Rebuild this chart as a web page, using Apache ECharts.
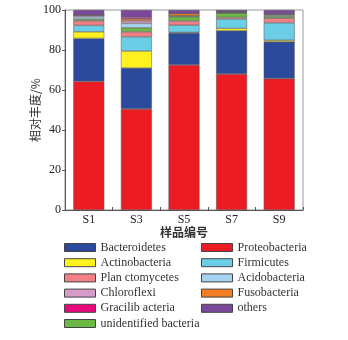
<!DOCTYPE html>
<html>
<head>
<meta charset="utf-8">
<script src="https://cdn.jsdelivr.net/npm/echarts@6/dist/echarts.min.js"></script>
<style>html,body{margin:0;padding:0;background:#fff;}#c{width:348px;height:340px;}</style>
</head>
<body>
<div id="c"></div>
<script>
const categories = ['S1', 'S3', 'S5', 'S7', 'S9'];
const yTicks = [0, 20, 40, 60, 80, 100];
const yAxisName = '相对丰度/%';
const xAxisName = '样品编号';

// stacked from bottom to top
const proteobacteria   = [64.3, 50.5, 72.5, 68.0, 65.7];
const bacteroidetes    = [21.5, 20.5, 16.0, 21.6, 18.4];
const actinobacteria   = [3.3, 8.5, 0.3, 1.2, 0.8];
const firmicutes       = [3.2, 7.1, 3.6, 4.7, 8.7];
const planctomycetes   = [2.3, 2.5, 2.1, 0.8, 2.3];
const unidentified     = [0.9, 2.0, 2.1, 2.2, 0.9];
const acidobacteria    = [1.1, 2.2, 0.5, 0.2, 0.5];
const chloroflexi      = [0.9, 1.3, 0.0, 0.3, 0.6];
const fusobacteria     = [0.0, 0.9, 1.2, 0.0, 0.0];
const gracilibacteria  = [0.0, 0.8, 0.0, 0.2, 0.2];
const others           = [2.5, 3.7, 1.7, 0.8, 1.9];

const seriesDefs = [
  ['Proteobacteria', proteobacteria, '#ec1c24'],
  ['Bacteroidetes', bacteroidetes, '#2b4a9b'],
  ['Actinobacteria', actinobacteria, '#fff21f'],
  ['Firmicutes', firmicutes, '#6ccde6'],
  ['Plan ctomycetes', planctomycetes, '#f28086'],
  ['unidentified bacteria', unidentified, '#6cb845'],
  ['Acidobacteria', acidobacteria, '#a6d4f0'],
  ['Chloroflexi', chloroflexi, '#d79bc9'],
  ['Fusobacteria', fusobacteria, '#f47d22'],
  ['Gracilib acteria', gracilibacteria, '#e9097c'],
  ['others', others, '#7c489c']
];

const leftLegend = ['Bacteroidetes', 'Actinobacteria', 'Plan ctomycetes', 'Chloroflexi', 'Gracilib acteria', 'unidentified bacteria'];
const rightLegend = ['Proteobacteria', 'Firmicutes', 'Acidobacteria', 'Fusobacteria', 'others'];

const serif = 'Liberation Serif';
const cjk = 'Noto Sans CJK SC';

const legendCommon = {
  orient: 'vertical',
  itemWidth: 31,
  itemHeight: 8,
  itemGap: 1.2,
  icon: 'rect',
  top: 235.5,
  height: 120,
  textStyle: { fontFamily: serif, fontSize: 12, color: '#333', lineHeight: 14 },
  itemStyle: { borderColor: '#444', borderWidth: 1 }
};

const chart = echarts.init(document.getElementById('c'), null, { renderer: 'canvas' });
chart.setOption({
  animation: false,
  backgroundColor: '#fff',
  grid: { left: 65, right: 45, top: 10, height: 200, show: true, borderColor: '#999', borderWidth: 1 },
  legend: [
    Object.assign({}, legendCommon, { left: 59, data: leftLegend }),
    Object.assign({}, legendCommon, { left: 196, data: rightLegend })
  ],
  xAxis: {
    type: 'category',
    data: categories,
    name: xAxisName,
    nameLocation: 'middle',
    nameGap: 16,
    nameMoveOverlap: false,
    nameTextStyle: { fontFamily: cjk, fontSize: 12, color: '#333', fontWeight: 'bold', verticalAlign: 'top' },
    axisLine: { lineStyle: { color: '#555', width: 1 } },
    axisTick: { show: true, inside: true, length: 3, alignWithLabel: false, lineStyle: { color: '#555' } },
    axisLabel: { fontFamily: serif, fontSize: 12, color: '#222', margin: 4 }
  },
  yAxis: {
    type: 'value',
    min: 0,
    max: 100,
    interval: 20,
    name: yAxisName,
    nameLocation: 'middle',
    nameGap: 24,
    nameMoveOverlap: false,
    nameTextStyle: { fontFamily: cjk, fontSize: 12, color: '#333' },
    axisLine: { show: true, lineStyle: { color: '#555', width: 1 } },
    axisTick: { show: true, length: 3, lineStyle: { color: '#555' } },
    axisLabel: {
      fontFamily: serif, fontSize: 12, color: '#222', margin: 4,
      formatter: v => (yTicks.indexOf(v) >= 0 ? String(v) : '')
    },
    splitLine: { show: false }
  },
  series: seriesDefs.map(([name, data, color]) => ({
    name: name,
    type: 'bar',
    stack: 'total',
    barWidth: '65%',
    data: data,
    itemStyle: { color: color, borderColor: '#555', borderWidth: 0.5 }
  }))
});
</script>
</body>
</html>
